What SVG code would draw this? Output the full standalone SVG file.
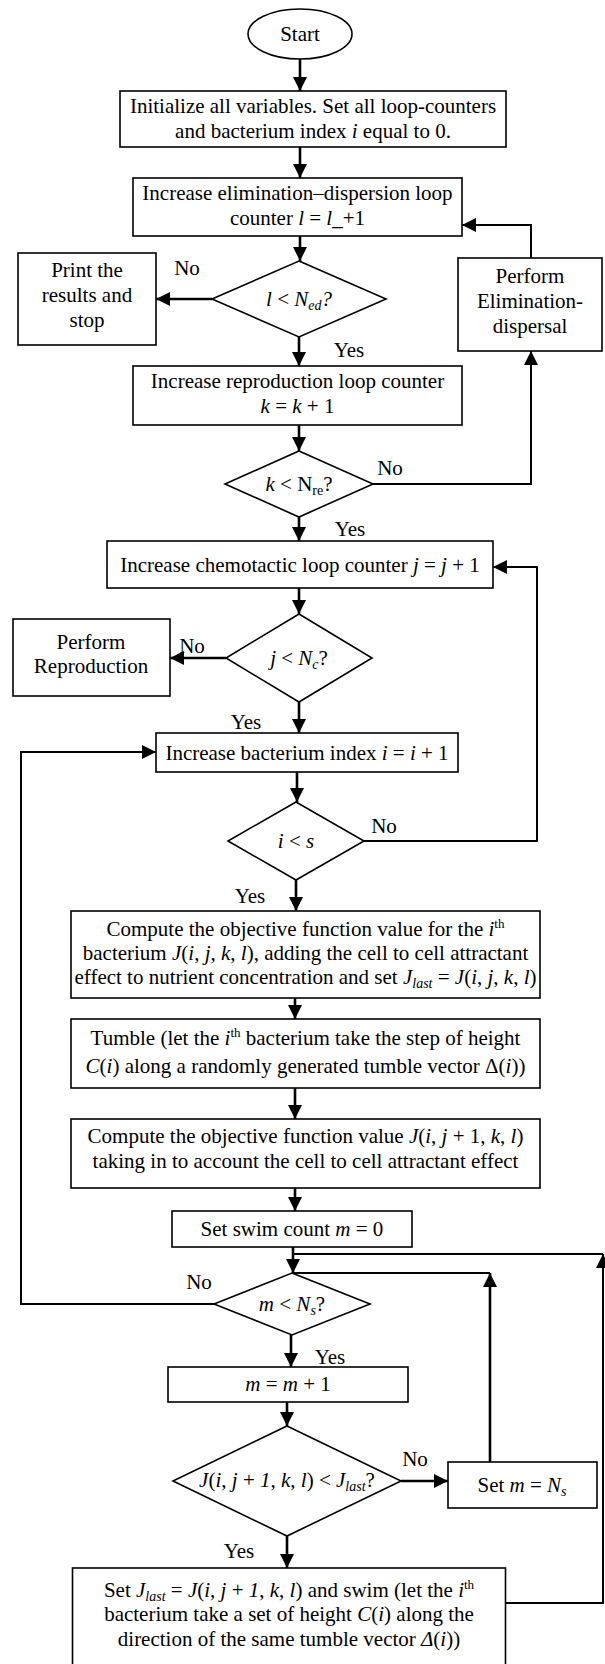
<svg xmlns="http://www.w3.org/2000/svg" width="605" height="1664" viewBox="0 0 605 1664">
<style>
.b{fill:#fff;stroke:#000;stroke-width:1.6}
.t{font-family:"Liberation Serif","Times New Roman",serif;font-size:21px;fill:#000;text-anchor:middle}
.i{font-style:italic}
.s{font-size:14px}
.p{font-size:13px}
.c{fill:none;stroke:#000;stroke-width:2}
.c2{fill:none;stroke:#000;stroke-width:2.6}
</style>
<defs>
<marker id="a" viewBox="0 0 14 14" refX="14" refY="7" markerWidth="14" markerHeight="14" orient="auto" markerUnits="userSpaceOnUse"><path d="M0,0 L14,7 L0,14 z" fill="#000"/></marker>
</defs>
<rect width="605" height="1664" fill="#fff"/>
<g id="connectors">
<path class="c2" d="M300,59 V91" marker-end="url(#a)"/>
<path class="c2" d="M300,147 V178" marker-end="url(#a)"/>
<path class="c2" d="M300,236 V261" marker-end="url(#a)"/>
<path class="c2" d="M299,337 V366" marker-end="url(#a)"/>
<path class="c2" d="M299,425 V451" marker-end="url(#a)"/>
<path class="c2" d="M299,517 V541" marker-end="url(#a)"/>
<path class="c2" d="M299,588 V614" marker-end="url(#a)"/>
<path class="c2" d="M299,702 V733" marker-end="url(#a)"/>
<path class="c2" d="M297,772 V802" marker-end="url(#a)"/>
<path class="c2" d="M296,880 V911" marker-end="url(#a)"/>
<path class="c2" d="M295,998 V1019" marker-end="url(#a)"/>
<path class="c2" d="M295,1088 V1119" marker-end="url(#a)"/>
<path class="c2" d="M295,1188 V1211" marker-end="url(#a)"/>
<path class="c2" d="M293,1247 V1273" marker-end="url(#a)"/>
<path class="c2" d="M291,1335 V1367" marker-end="url(#a)"/>
<path class="c2" d="M287,1402 V1426" marker-end="url(#a)"/>
<path class="c2" d="M287,1536 V1568" marker-end="url(#a)"/>
<path class="c2" d="M212,299 H156" marker-end="url(#a)"/>
<path class="c2" d="M226,658 H170" marker-end="url(#a)"/>
<path class="c2" d="M401,1481 H448" marker-end="url(#a)"/>
<path class="c" d="M531,258 V225 H462" marker-end="url(#a)"/>
<path class="c" d="M373,484 H531 V351" marker-end="url(#a)"/>
<path class="c" d="M364,841 H537 V567 H493" marker-end="url(#a)"/>
<path class="c" d="M214,1304 H21 V752 H156" marker-end="url(#a)"/>
<path class="c" d="M506,1603 H603 V1254" marker-end="url(#a)"/>
<path class="c" d="M603,1254 H293"/>
<path class="c2" d="M490,1462 V1273" marker-end="url(#a)"/>
<path class="c" d="M490,1273 H292"/>
</g>
<g id="start">
<ellipse cx="300" cy="34" rx="52" ry="25" class="b"/>
<text class="t" x="300" y="41">Start</text>
</g>
<g id="init">
<rect class="b" x="120" y="91" width="386" height="56"/>
<text class="t" x="313" y="113">Initialize all variables. Set all loop-counters</text>
<text class="t" x="313" y="138">and bacterium index <tspan class="i">i</tspan> equal to 0.</text>
</g>
<g id="elim">
<rect class="b" x="133" y="178" width="329" height="58"/>
<text class="t" x="297.5" y="200">Increase elimination–dispersion loop</text>
<text class="t" x="297.5" y="225">counter <tspan class="i">l</tspan> = <tspan class="i">l</tspan>_+1</text>
</g>
<g id="d1">
<polygon class="b" points="299,261 386,299 299,337 212,299"/>
<text class="t" x="299" y="306"><tspan class="i">l</tspan> &lt; <tspan class="i">N</tspan><tspan class="i s" dy="4">ed</tspan><tspan class="i" dy="-4">?</tspan></text>
<text class="t" x="187" y="275">No</text>
<text class="t" x="349" y="357">Yes</text>
</g>
<g id="print">
<rect class="b" x="18" y="253" width="138" height="92"/>
<text class="t" x="87" y="277">Print the</text>
<text class="t" x="87" y="302">results and</text>
<text class="t" x="87" y="327">stop</text>
</g>
<g id="elimdisp">
<rect class="b" x="458" y="258" width="144" height="93"/>
<text class="t" x="530" y="283">Perform</text>
<text class="t" x="530" y="308">Elimination-</text>
<text class="t" x="530" y="333">dispersal</text>
</g>
<g id="repro">
<rect class="b" x="133" y="366" width="329" height="59"/>
<text class="t" x="297.5" y="388">Increase reproduction loop counter</text>
<text class="t" x="297.5" y="413"><tspan class="i">k</tspan> = <tspan class="i">k</tspan> + 1</text>
</g>
<g id="d2">
<polygon class="b" points="299,451 373,484 299,517 225,484"/>
<text class="t" x="299" y="491"><tspan class="i">k</tspan> &lt; N<tspan class="s" dy="4">re</tspan><tspan dy="-4">?</tspan></text>
<text class="t" x="390" y="475">No</text>
<text class="t" x="350" y="536">Yes</text>
</g>
<g id="chemo">
<rect class="b" x="107" y="541" width="386" height="47"/>
<text class="t" x="300" y="572">Increase chemotactic loop counter <tspan class="i">j</tspan> = <tspan class="i">j</tspan> + 1</text>
</g>
<g id="d3">
<polygon class="b" points="299,614 372,658 299,702 226,658"/>
<text class="t" x="299" y="665"><tspan class="i">j</tspan> &lt; <tspan class="i">N</tspan><tspan class="i s" dy="4">c</tspan><tspan dy="-4">?</tspan></text>
<text class="t" x="192" y="653">No</text>
<text class="t" x="246" y="729">Yes</text>
</g>
<g id="performrepro">
<rect class="b" x="13" y="619" width="157" height="77"/>
<text class="t" x="91" y="649">Perform</text>
<text class="t" x="91" y="673">Reproduction</text>
</g>
<g id="bact">
<rect class="b" x="156" y="733" width="302" height="39"/>
<text class="t" x="307" y="760">Increase bacterium index <tspan class="i">i</tspan> = <tspan class="i">i</tspan> + 1</text>
</g>
<g id="d4">
<polygon class="b" points="296,802 364,841 296,880 228,841"/>
<text class="t" x="296" y="848"><tspan class="i">i</tspan> &lt; <tspan class="i">s</tspan></text>
<text class="t" x="384" y="833">No</text>
<text class="t" x="250" y="903">Yes</text>
</g>
<g id="compute1">
<rect class="b" x="71" y="911" width="469" height="87"/>
<text class="t" x="305.5" y="936">Compute the objective function value for the <tspan class="i">i</tspan><tspan class="p" dy="-8">th</tspan></text>
<text class="t" x="305.5" y="960">bacterium <tspan class="i">J</tspan>(<tspan class="i">i</tspan>, <tspan class="i">j</tspan>, <tspan class="i">k</tspan>, <tspan class="i">l</tspan>), adding the cell to cell attractant</text>
<text class="t" x="305.5" y="984">effect to nutrient concentration and set <tspan class="i">J</tspan><tspan class="i s" dy="4">last</tspan><tspan dy="-4"> = </tspan><tspan class="i">J</tspan>(<tspan class="i">i</tspan>, <tspan class="i">j</tspan>, <tspan class="i">k</tspan>, <tspan class="i">l</tspan>)</text>
</g>
<g id="tumble">
<rect class="b" x="71" y="1019" width="469" height="69"/>
<text class="t" x="305.5" y="1045">Tumble (let the <tspan class="i">i</tspan><tspan class="p" dy="-8">th</tspan><tspan dy="8"> bacterium take the step of height</tspan></text>
<text class="t" x="305.5" y="1073"><tspan class="i">C</tspan>(<tspan class="i">i</tspan>) along a randomly generated tumble vector Δ(<tspan class="i">i</tspan>))</text>
</g>
<g id="compute2">
<rect class="b" x="71" y="1119" width="469" height="69"/>
<text class="t" x="305.5" y="1143">Compute the objective function value <tspan class="i">J</tspan>(<tspan class="i">i</tspan>, <tspan class="i">j</tspan> + 1, <tspan class="i">k</tspan>, <tspan class="i">l</tspan>)</text>
<text class="t" x="305.5" y="1168">taking in to account the cell to cell attractant effect</text>
</g>
<g id="swim">
<rect class="b" x="172" y="1211" width="240" height="36"/>
<text class="t" x="292" y="1236">Set swim count <tspan class="i">m</tspan> = 0</text>
</g>
<g id="d5">
<polygon class="b" points="292,1273 370,1304 292,1335 214,1304"/>
<text class="t" x="292" y="1311"><tspan class="i">m</tspan> &lt; <tspan class="i">N</tspan><tspan class="i s" dy="4">s</tspan><tspan dy="-4">?</tspan></text>
<text class="t" x="199" y="1289">No</text>
<text class="t" x="330" y="1364">Yes</text>
</g>
<g id="minc">
<rect class="b" x="168" y="1367" width="240" height="35"/>
<text class="t" x="288" y="1391"><tspan class="i">m</tspan> = <tspan class="i">m</tspan> + 1</text>
</g>
<g id="d6">
<polygon class="b" points="287,1426 401,1481 287,1536 173,1481"/>
<text class="t" x="287" y="1487"><tspan class="i">J</tspan>(<tspan class="i">i</tspan>, <tspan class="i">j</tspan> + <tspan class="i">1</tspan>, <tspan class="i">k</tspan>, <tspan class="i">l</tspan>) &lt; <tspan class="i">J</tspan><tspan class="i s" dy="4">last</tspan><tspan dy="-4">?</tspan></text>
<text class="t" x="415" y="1466">No</text>
<text class="t" x="239" y="1558">Yes</text>
</g>
<g id="setm">
<rect class="b" x="448" y="1462" width="149" height="46"/>
<text class="t" x="522" y="1492">Set <tspan class="i">m</tspan> = <tspan class="i">N</tspan><tspan class="i s" dy="4">s</tspan></text>
</g>
<g id="swimstep">
<rect class="b" x="72.5" y="1568" width="433" height="100"/>
<text class="t" x="289" y="1597">Set <tspan class="i">J</tspan><tspan class="i s" dy="4">last</tspan><tspan dy="-4"> = </tspan><tspan class="i">J</tspan>(<tspan class="i">i</tspan>, <tspan class="i">j</tspan> + <tspan class="i">1</tspan>, <tspan class="i">k</tspan>, <tspan class="i">l</tspan>) and swim (let the <tspan class="i">i</tspan><tspan class="p" dy="-8">th</tspan></text>
<text class="t" x="289" y="1621">bacterium take a set of height <tspan class="i">C</tspan>(<tspan class="i">i</tspan>) along the</text>
<text class="t" x="289" y="1646">direction of the same tumble vector <tspan class="i">Δ</tspan>(<tspan class="i">i</tspan>))</text>
</g>
</svg>
